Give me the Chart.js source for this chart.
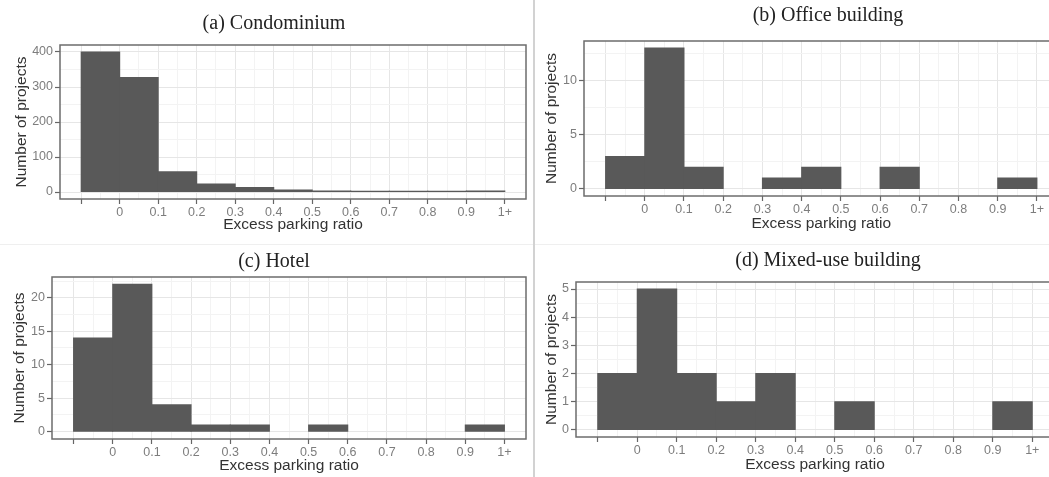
<!DOCTYPE html>
<html>
<head>
<meta charset="utf-8">
<script src="https://cdn.jsdelivr.net/npm/chart.js@4.4.0/dist/chart.umd.min.js"></script>
<style>
  html, body { margin: 0; padding: 0; background: #ffffff; }
  body { width: 1049px; height: 477px; overflow: hidden; position: relative; }
  .pane { position: absolute; }
  .pane canvas { display: block; }
  .vsep { position: absolute; left: 533px; top: 0; width: 2px; height: 477px; background: #d2d2d2; }
  .hsep { position: absolute; left: 0; top: 244px; width: 1049px; height: 1px; background: #efefef; }
</style>
</head>
<body>
<div class="hsep"></div>
<div class="vsep"></div>
<div class="pane" style="left:0px;top:0px;"><canvas id="ca" width="548" height="240"></canvas></div>
<div class="pane" style="left:536px;top:0px;"><canvas id="cb" width="584" height="240"></canvas></div>
<div class="pane" style="left:0px;top:240px;"><canvas id="cc" width="548" height="237"></canvas></div>
<div class="pane" style="left:536px;top:240px;"><canvas id="cd" width="584" height="237"></canvas></div>
<script>
// ---------- data ----------
const binEdges   = [-0.1, 0, 0.1, 0.2, 0.3, 0.4, 0.5, 0.6, 0.7, 0.8, 0.9, 1.0];
const edgeLabels = ['', '0', '0.1', '0.2', '0.3', '0.4', '0.5', '0.6', '0.7', '0.8', '0.9', '1+'];

const condominium    = [400, 327, 58, 23, 13, 6, 3, 2, 2, 2, 3];
const officeBuilding = [3, 13, 2, 0, 1, 2, 0, 2, 0, 0, 1];
const hotel          = [14, 22, 4, 1, 1, 0, 1, 0, 0, 0, 1];
const mixedUse       = [2, 5, 2, 1, 2, 0, 1, 0, 0, 0, 1];

const yTicksCondo  = [0, 100, 200, 300, 400];
const yTicksOffice = [0, 5, 10];
const yTicksHotel  = [0, 5, 10, 15, 20];
const yTicksMixed  = [0, 1, 2, 3, 4, 5];

const panelTitles = ['(a) Condominium', '(b) Office building', '(c) Hotel', '(d) Mixed-use building'];
const xAxisTitle = 'Excess parking ratio';
const yAxisTitle = 'Number of projects';

// ---------- styling / layout ----------
const SANS = "'Liberation Sans', Arial, sans-serif";
const SERIF = "'Liberation Serif', 'Times New Roman', serif";
const TICK_COLOR = '#7d7d7d';
const TITLE_COLOR = '#333333';

const panelBorder = {
  id: 'panelBorder',
  afterDatasetsDraw(chart) {
    const a = chart.chartArea;
    const ctx = chart.ctx;
    ctx.save();
    ctx.strokeStyle = '#6c6c6c';
    ctx.lineWidth = 1.5;
    ctx.strokeRect(a.left, a.top, a.right - a.left, a.bottom - a.top);
    ctx.restore();
  }
};

function xTickList() {
  const list = [];
  for (let i = 0; i < binEdges.length; i++) {
    list.push({ value: binEdges[i], lab: edgeLabels[i], minor: false });
    if (i < binEdges.length - 1) {
      list.push({ value: (binEdges[i] + binEdges[i + 1]) / 2, lab: '', minor: true });
    }
  }
  return list;
}

function yTickList(majors, yMax) {
  const list = [];
  const step = majors[1] - majors[0];
  for (let i = 0; i < majors.length; i++) {
    list.push({ value: majors[i], lab: String(majors[i]), minor: false });
    const mid = majors[i] + step / 2;
    if (mid < yMax) list.push({ value: mid, lab: '', minor: true });
  }
  return list;
}

const gridColor = (c) => (c.tick && c.tick.minor) ? '#f3f3f3' : '#e6e6e6';
const tickMarkColor = (c) => (c.tick && c.tick.minor) ? 'rgba(0,0,0,0)' : '#666666';

const panels = [
  { id: 'ca', title: panelTitles[0], counts: condominium,    yTicks: yTicksCondo,
    yW: 60, xH: 41, R: 22, titlePad: { top: 12, bottom: 9 }, yTitlePad: 12, xTitlePad: 6 },
  { id: 'cb', title: panelTitles[1], counts: officeBuilding, yTicks: yTicksOffice,
    yW: 48, xH: 44, R: 61.5, titlePad: { top: 4, bottom: 13 }, yTitlePad: 6.5, xTitlePad: 7 },
  { id: 'cc', title: panelTitles[2], counts: hotel,          yTicks: yTicksHotel,
    yW: 52, xH: 38, R: 22, titlePad: { top: 10, bottom: 3 }, yTitlePad: 10, xTitlePad: 2 },
  { id: 'cd', title: panelTitles[3], counts: mixedUse,       yTicks: yTicksMixed,
    yW: 40, xH: 40, R: 66, titlePad: { top: 9, bottom: 9 }, yTitlePad: 6, xTitlePad: 3 }
];

function makeChart(p) {
  const maxCount = Math.max(...p.counts);
  const yMin = -0.05 * maxCount;
  const yMax = 1.05 * maxCount;
  const span = binEdges[binEdges.length - 1] - binEdges[0];
  const xMin = binEdges[0] - 0.05 * span;
  const xMax = binEdges[binEdges.length - 1] + 0.05 * span;

  new Chart(document.getElementById(p.id), {
    type: 'bar',
    data: {
      datasets: [{
        data: p.counts.map((c, i) => ({ x: (binEdges[i] + binEdges[i + 1]) / 2, y: c })),
        backgroundColor: '#595959',
        borderWidth: 0,
        barPercentage: 1,
        categoryPercentage: 1,
        barThickness: 'flex',
        inflateAmount: (c) => (c.raw && c.raw.y > 0) ? 0.5 : 0
      }]
    },
    options: {
      responsive: false,
      animation: false,
      devicePixelRatio: 1,
      layout: { padding: 0 },
      plugins: {
        legend: { display: false },
        tooltip: { enabled: false },
        title: {
          display: true,
          text: p.title,
          color: '#222222',
          font: { family: SERIF, size: 20, weight: 'normal', lineHeight: 1.2 },
          padding: p.titlePad
        }
      },
      scales: {
        x: {
          type: 'linear',
          position: 'bottom',
          min: xMin,
          max: xMax,
          bounds: 'data',
          offset: false,
          grid: { offset: false, color: gridColor, lineWidth: 1, drawTicks: true, tickLength: 5,
                  tickColor: tickMarkColor, tickWidth: 1.2 },
          border: { display: false },
          ticks: {
            autoSkip: false, maxRotation: 0, minRotation: 0, padding: 1.5,
            color: TICK_COLOR, font: { family: SANS, size: 12.5 },
            callback: (v, i, t) => t[i].lab
          },
          title: { display: true, text: xAxisTitle, color: TITLE_COLOR,
                   font: { family: SANS, size: 15.5 }, padding: { top: 0, bottom: p.xTitlePad } },
          afterBuildTicks: (s) => { s.ticks = xTickList(); },
          afterFit: (s) => { s.height = p.xH; }
        },
        y: {
          type: 'linear',
          position: 'left',
          min: yMin,
          max: yMax,
          bounds: 'data',
          grid: { color: gridColor, lineWidth: 1, drawTicks: true, tickLength: 5,
                  tickColor: tickMarkColor, tickWidth: 1.2 },
          border: { display: false },
          ticks: {
            autoSkip: false, padding: 2,
            color: TICK_COLOR, font: { family: SANS, size: 12.5 },
            callback: (v, i, t) => t[i].lab
          },
          title: { display: true, text: yAxisTitle, color: TITLE_COLOR,
                   font: { family: SANS, size: 15.5 }, padding: { top: p.yTitlePad, bottom: 0 } },
          afterBuildTicks: (s) => { s.ticks = yTickList(p.yTicks, yMax); },
          afterFit: (s) => { s.width = p.yW; }
        },
        yPad: {
          type: 'linear',
          position: 'right',
          display: true,
          grid: { display: false, drawTicks: false },
          border: { display: false },
          ticks: { display: false },
          afterFit: (s) => { s.width = p.R; }
        }
      }
    },
    plugins: [panelBorder]
  });
}

panels.forEach(makeChart);
</script>
</body>
</html>
